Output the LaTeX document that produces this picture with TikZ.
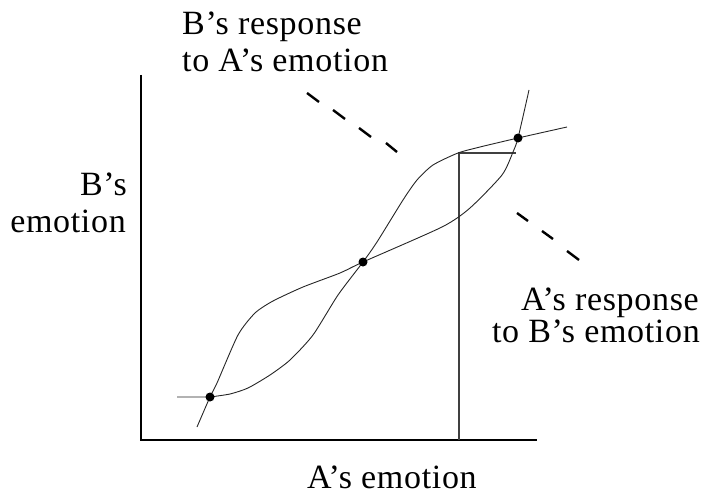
\documentclass[tikz,border=0pt]{standalone}
\usepackage{fontspec}
\setmainfont{Liberation Serif}[LetterSpace=2]
\begin{document}
\begin{tikzpicture}[x=1pt,y=-1pt,
  lbl/.style={inner sep=0pt,font=\fontsize{34}{37}\selectfont},
  curve/.style={line width=0.9pt,black!85},
  axis/.style={line width=1.4pt,black},
  guide/.style={line width=1.2pt,black!75},
  dashmark/.style={line width=2.4pt,black},
  eqdot/.style={circle,fill=black,inner sep=0pt,minimum size=9pt}]
\useasboundingbox (0,0) rectangle (707,495);
% axes
\coordinate (ytop) at (141,75);
\coordinate (orig) at (141,440);
\coordinate (xend) at (537,440);
\draw[axis] (ytop) -- (orig) -- (xend);
% guide lines
\coordinate (gb) at (459,440);
\coordinate (gc) at (459,153);
\coordinate (gr) at (516,153);
\draw[guide] (gb) -- (gc) -- (gr);
% B's response to A's emotion
\draw[curve] (177,397) -- (210,397)
  plot[smooth,tension=0.4] coordinates {(210,397) (230,394) (248,388) (270,375) (290,360) (313,335) (338,295) (363,262) (377,242) (403,200) (417,180) (433,165) (458,153) (480,147) (518,138) (567,127)};
% A's response to B's emotion
\draw[curve] plot[smooth,tension=0.4] coordinates {(197,427) (210,397) (217,383) (238,335) (255,313) (273,301) (303,287) (340,273) (363,262) (442,227) (470,208) (502,175) (513,152) (518,138) (529,90)};
% equilibria
\node[eqdot] (e1) at (210,397) {};
\node[eqdot] (e2) at (363,262) {};
\node[eqdot] (e3) at (518,138) {};
% dash marks
\draw[dashmark] (307,93) -- (319,102);
\draw[dashmark] (333,110) -- (345,119);
\draw[dashmark] (359,128) -- (371,137);
\draw[dashmark] (386,143) -- (397,152);
\draw[dashmark] (517,213) -- (528,221);
\draw[dashmark] (542,231) -- (553,239);
\draw[dashmark] (567,251) -- (579,260);
% labels
\node[lbl,anchor=base west] (t1) at (182,35) {B’s response};
\node[lbl,anchor=base west] (t2) at (182,72) {to A’s emotion};
\node[lbl,anchor=base east] (t3) at (127,195) {B’s};
\node[lbl,anchor=base east] (t4) at (126,232) {emotion};
\node[lbl,anchor=base east] (t5) at (699,310) {A’s response};
\node[lbl,anchor=base east] (t6) at (700,342) {to B’s emotion};
\node[lbl,anchor=base] (t7) at (392,488) {A’s emotion};
\end{tikzpicture}
\end{document}
